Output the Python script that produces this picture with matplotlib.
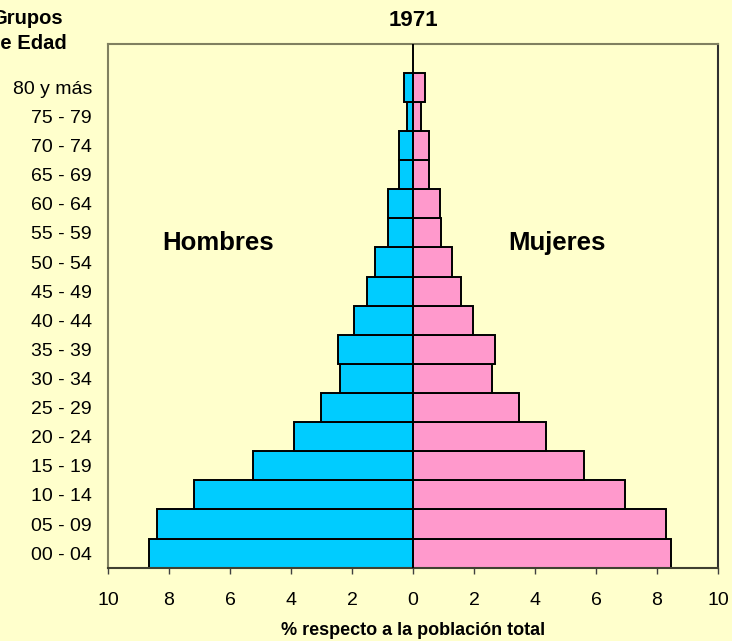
import matplotlib
matplotlib.use("Agg")
import matplotlib.pyplot as plt
import numpy as np

plt.rcParams['font.family'] = ['Liberation Sans', 'DejaVu Sans']

age_groups = ['00 - 04', '05 - 09', '10 - 14', '15 - 19', '20 - 24', '25 - 29',
              '30 - 34', '35 - 39', '40 - 44', '45 - 49', '50 - 54', '55 - 59',
              '60 - 64', '65 - 69', '70 - 74', '75 - 79', '80 y más']
hombres = [8.65, 8.40, 7.18, 5.25, 3.91, 3.01, 2.38, 2.46, 1.92, 1.50,
           1.25, 0.81, 0.81, 0.45, 0.45, 0.20, 0.28]
mujeres = [8.46, 8.29, 6.96, 5.61, 4.35, 3.49, 2.59, 2.70, 1.97, 1.59,
           1.29, 0.92, 0.88, 0.52, 0.52, 0.27, 0.40]
x_ticks = [-10, -8, -6, -4, -2, 0, 2, 4, 6, 8, 10]
x_tick_labels = ['10', '8', '6', '4', '2', '0', '2', '4', '6', '8', '10']

bg = '#FFFFCC'
fig = plt.figure(figsize=(7.32, 6.41), dpi=100, facecolor=bg)
ax = fig.add_axes([108/732, 1-567.7/641, (718-108)/732, (567.7-43.7)/641])
ax.set_facecolor(bg)

y = np.arange(len(age_groups))
ax.barh(y, -np.array(hombres), height=1.0, color='#00CCFF', edgecolor='black', linewidth=1.4, zorder=2)
ax.barh(y, mujeres, height=1.0, color='#FF99CC', edgecolor='black', linewidth=1.4, zorder=2)
ax.axvline(0, color='black', linewidth=1.4, zorder=3)

ax.set_xlim(-10, 10)
ax.set_ylim(-0.5, 17.5)
ax.set_xticks(x_ticks)
ax.set_xticklabels(x_tick_labels, fontsize=14)
ax.set_yticks(y)
ax.set_yticklabels(age_groups, fontsize=14)
ax.tick_params(axis='y', length=0, pad=11.5)
ax.tick_params(axis='x', length=4, width=1, color='#404040', pad=13.5, direction='out')

for s in ['left', 'top']:
    ax.spines[s].set_color('#808060')
    ax.spines[s].set_linewidth(1.5)
ax.spines['right'].set_color('#303030')
ax.spines['right'].set_linewidth(1.5)
ax.spines['bottom'].set_color('#404030')
ax.spines['bottom'].set_linewidth(1.5)

ax.set_xlabel('% respecto a la población total', fontsize=13, fontweight='bold', labelpad=9)
ax.set_title('1971', fontsize=16, fontweight='bold', pad=13)

ax.text(0.18, 0.62, 'Hombres', transform=ax.transAxes, fontsize=18.5, fontweight='bold',
        ha='center', va='center')
ax.text(0.736, 0.62, 'Mujeres', transform=ax.transAxes, fontsize=18.5, fontweight='bold',
        ha='center', va='center')

fig.text(27/732, 1-31/641, 'Grupos\nde Edad', fontsize=14.5, fontweight='bold',
         ha='center', va='center', linespacing=1.4)

fig.savefig('out.png', dpi=100, facecolor=bg)
